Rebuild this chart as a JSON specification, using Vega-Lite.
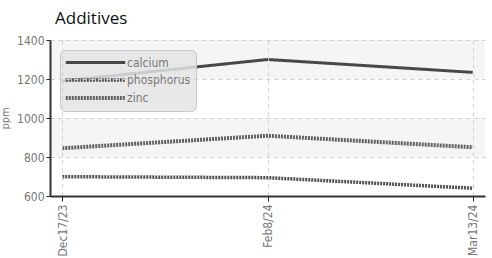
{
  "$schema": "https://vega.github.io/schema/vega-lite/v6.json",
  "width": 435,
  "height": 156,
  "autosize": {"type": "none"},
  "padding": {"left": 50, "top": 40, "right": 7, "bottom": 62},
  "title": {"text": "Additives", "anchor": "start", "frame": "group", "dx": 5, "offset": 6, "fontSize": 17, "fontWeight": "normal", "font": "Open Sans", "color": "#111"},
  "config": {
    "view": {"stroke": null},
    "font": "DejaVu Sans Condensed, Roboto, sans-serif",
    "axis": {"labelColor": "#777", "labelFontSize": 12, "titleColor": "#777", "titleFontWeight": "normal", "gridColor": "#d0d0d0", "gridDash": [4, 4], "domainColor": "#333", "tickColor": "#222", "zindex": 1, "labelOverlap": false}
  },
  "datasets": {
    "bands": [{"lo": 1200, "hi": 1400}, {"lo": 800, "hi": 1000}],
    "vals": [
      {"date": "Dec17/23", "element": "calcium", "ppm": 1190},
      {"date": "Feb8/24", "element": "calcium", "ppm": 1300},
      {"date": "Mar13/24", "element": "calcium", "ppm": 1234},
      {"date": "Dec17/23", "element": "phosphorus", "ppm": 699},
      {"date": "Feb8/24", "element": "phosphorus", "ppm": 694},
      {"date": "Mar13/24", "element": "phosphorus", "ppm": 640},
      {"date": "Dec17/23", "element": "zinc", "ppm": 845},
      {"date": "Feb8/24", "element": "zinc", "ppm": 909},
      {"date": "Mar13/24", "element": "zinc", "ppm": 850}
    ]
  },
  "layer": [
    {
      "data": {"name": "bands"},
      "mark": {"type": "rect", "color": "#f5f5f5"},
      "encoding": {
        "y": {"field": "lo", "type": "quantitative", "scale": {"domain": [600, 1400], "nice": false, "zero": false},
              "axis": {"title": "ppm", "titleFontSize": 11, "format": "d", "values": [600, 800, 1000, 1200, 1400], "labelOverlap": false, "zindex": 1, "grid": true, "tickSize": 4, "domainWidth": 2, "labelPadding": 2, "titlePadding": 6}},
        "y2": {"field": "hi"}
      }
    },
    {
      "data": {"name": "vals"},
      "mark": {"type": "line", "strokeCap": "butt"},
      "encoding": {
        "x": {"field": "date", "type": "ordinal", "sort": null, "scale": {"type": "point", "padding": 0.06},
              "axis": {"title": null, "labelAngle": -90, "labelAlign": "right", "labelBaseline": "middle", "grid": true, "zindex": 1, "tickSize": 5, "domainWidth": 2, "labelPadding": 3}},
        "y": {"field": "ppm", "type": "quantitative", "scale": {"domain": [600, 1400], "nice": false, "zero": false},
              "axis": {"title": "ppm", "titleFontSize": 11, "format": "d", "values": [600, 800, 1000, 1200, 1400], "labelOverlap": false, "zindex": 1, "grid": true, "tickSize": 4, "domainWidth": 2, "labelPadding": 2, "titlePadding": 6}},
        "color": {"field": "element", "type": "nominal", "title": null,
                  "scale": {"domain": ["calcium", "phosphorus", "zinc"], "range": ["#484848", "#505050", "#606060"]},
                  "legend": {"orient": "none", "legendX": 10, "legendY": 10, "symbolType": "M-1.2,0H8.7", "symbolSize": 144, "labelColor": "#777", "labelFontSize": 12, "fillColor": "rgba(228,228,228,0.85)", "strokeColor": "#c8c8c8", "cornerRadius": 5, "padding": 5, "rowPadding": 3, "labelOffset": 46}},
        "strokeDash": {"field": "element", "type": "nominal", "title": null,
                       "scale": {"domain": ["calcium", "phosphorus", "zinc"], "range": [[1, 0], [2, 1], [2, 1]]}},
        "strokeWidth": {"field": "element", "type": "nominal", "title": null,
                        "scale": {"domain": ["calcium", "phosphorus", "zinc"], "range": [3, 4, 2]}}
      }
    }
  ]
}
